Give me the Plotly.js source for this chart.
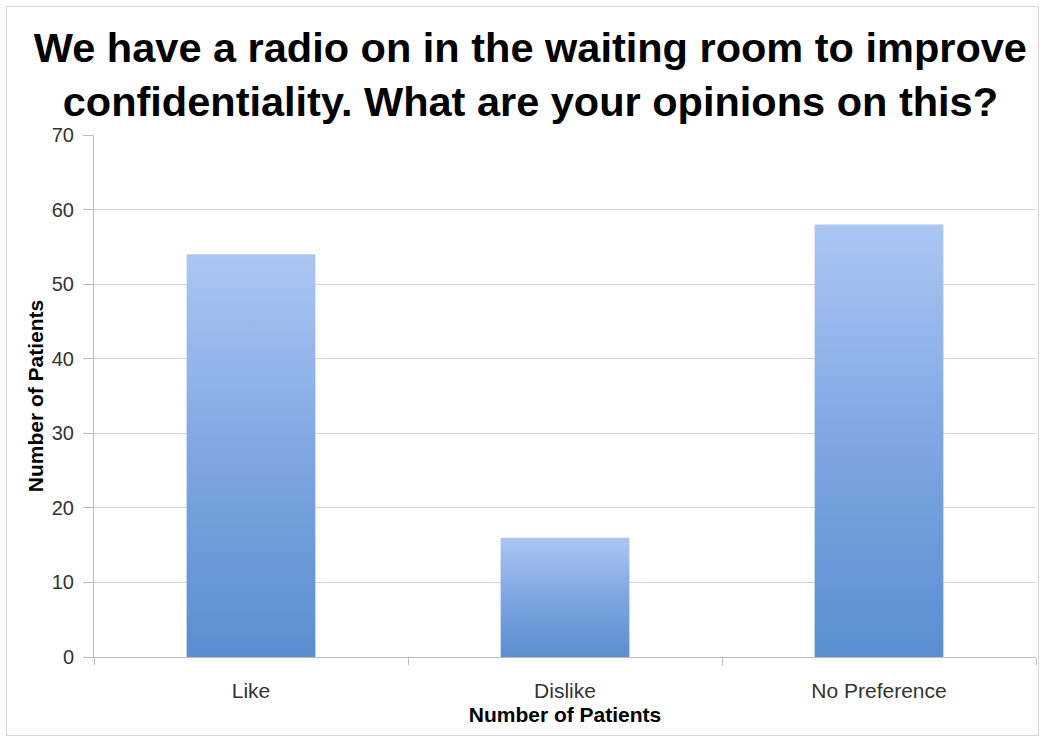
<!DOCTYPE html>
<html>
<head>
<meta charset="utf-8">
<script src="https://cdn.plot.ly/plotly-3.0.1.min.js"></script>
<style>
  html, body { margin: 0; padding: 0; background: #ffffff; }
  #chart { position: absolute; left: 0; top: 0; width: 1042px; height: 742px; }
  #frame { position: absolute; left: 6px; top: 6px; width: 1031px; height: 728px;
           border: 1px solid #d6d6d6; pointer-events: none; }
</style>
</head>
<body>
<div id="chart"></div>
<div id="frame"></div>
<script>
// Survey answers: opinion on the waiting-room radio
const categories = ['Like', 'Dislike', 'No Preference'];
const patients = [54, 16, 58];
const yTicks = [0, 10, 20, 30, 40, 50, 60, 70];

const barWidth = 0.41;
const FONT = '"Liberation Sans", Arial, sans-serif';
const AXIS_GREY = '#bdbdbd';

// Each bar is a filled polygon so it can carry a vertical gradient
const traces = categories.map((cat, i) => {
  const x0 = i - barWidth / 2, x1 = i + barWidth / 2;
  const v = patients[i];
  return {
    type: 'scatter',
    mode: 'lines',
    name: cat,
    x: [x0, x1, x1, x0, x0],
    y: [0, 0, v, v, 0],
    fill: 'toself',
    fillcolor: '#7fa7e0',
    fillgradient: {
      type: 'vertical',
      colorscale: [[0, '#5a8ed0'], [0.5, '#7ea6e2'], [1, '#abc6f3']]
    },
    line: { width: 0 },
    hoverinfo: 'text',
    text: cat + ': ' + v,
    showlegend: false
  };
});

const layout = {
  width: 1042,
  height: 742,
  paper_bgcolor: '#ffffff',
  plot_bgcolor: '#ffffff',
  margin: { l: 94, r: 6, t: 135, b: 85 },
  showlegend: false,
  title: {
    text: 'We have a radio on in the waiting room to improve<br>confidentiality. What are your opinions on this?',
    font: { family: FONT, size: 41.5, color: '#000000', weight: 'bold' },
    x: 0.509,
    xref: 'container',
    xanchor: 'center',
    y: 0.917,
    yref: 'container',
    yanchor: 'top'
  },
  xaxis: {
    range: [-0.5, 2.5],
    tickvals: [0, 1, 2],
    ticktext: categories,
    ticks: '',
    showgrid: false,
    zeroline: false,
    showline: true,
    linecolor: AXIS_GREY,
    linewidth: 1,
    ticklabelstandoff: 15,
    tickfont: { family: FONT, size: 21, color: '#333333' },
    minor: {
      tick0: -0.5,
      dtick: 1,
      ticks: 'outside',
      ticklen: 7,
      tickcolor: AXIS_GREY,
      showgrid: false
    },
    title: {
      text: 'Number of Patients',
      font: { family: FONT, size: 21, color: '#000000', weight: 'bold' },
      standoff: 6
    },
    fixedrange: true
  },
  yaxis: {
    range: [0, 70],
    tickvals: yTicks,
    ticktext: yTicks.map(String),
    ticks: 'outside',
    ticklen: 10,
    tickcolor: AXIS_GREY,
    showline: true,
    linecolor: AXIS_GREY,
    linewidth: 1,
    showgrid: true,
    gridcolor: '#d2d2d2',
    gridwidth: 1,
    zeroline: false,
    ticklabelstandoff: 5,
    tickfont: { family: FONT, size: 20, color: '#333333' },
    title: {
      text: 'Number of Patients',
      font: { family: FONT, size: 21, color: '#000000', weight: 'bold' },
      standoff: 2
    },
    fixedrange: true
  }
};

Plotly.newPlot('chart', traces, layout, { displayModeBar: false, staticPlot: true });
</script>
</body>
</html>
